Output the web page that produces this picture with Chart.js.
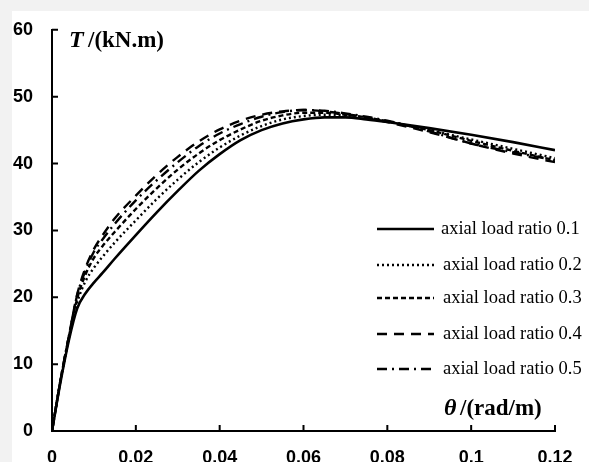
<!DOCTYPE html>
<html>
<head>
<meta charset="utf-8">
<script src="https://cdn.jsdelivr.net/npm/chart.js@4/dist/chart.umd.min.js"></script>
<style>
    html, body { margin: 0; padding: 0; background: #f2f2f2; }
    #box { width: 589px; height: 462px; }
</style>
</head>
<body>
<div id="box"><canvas id="myChart"></canvas></div>
<script>

// rotation angle (rad/m)
const theta = [0, 0.002, 0.004, 0.006, 0.008, 0.01, 0.012, 0.015, 0.02, 0.025, 0.03, 0.035,
    0.04, 0.045, 0.05, 0.055, 0.06, 0.065, 0.07, 0.075, 0.08, 0.09, 0.1, 0.11, 0.12]

// torque (kN.m) for each axial load ratio
const ratio01 = [0, 7.2, 13.5, 18.3, 20.6, 22.2, 23.6, 25.8, 29.3, 32.7, 35.9, 38.9,
    41.4, 43.5, 45.0, 46.0, 46.6, 46.9, 46.9, 46.6, 46.2, 45.3, 44.3, 43.2, 42.0]
const ratio02 = [0, 7.4, 13.8, 19.2, 22.4, 24.4, 26.0, 28.2, 31.5, 34.7, 37.6, 40.2,
    42.4, 44.2, 45.6, 46.6, 47.1, 47.3, 47.2, 46.8, 46.3, 45.0, 43.6, 42.2, 40.8]
const ratio03 = [0, 7.5, 14.0, 19.8, 23.4, 25.9, 27.6, 29.8, 33.2, 36.3, 39.1, 41.5,
    43.5, 45.1, 46.4, 47.2, 47.6, 47.6, 47.3, 46.9, 46.3, 45.0, 43.4, 41.9, 40.5]
const ratio04 = [0, 7.5, 14.1, 20.4, 24.4, 27.2, 29.2, 31.8, 35.2, 38.3, 41.0, 43.3,
    45.1, 46.4, 47.3, 47.8, 48.0, 47.8, 47.4, 46.9, 46.2, 44.7, 43.0, 41.5, 40.2]
const ratio05 = [0, 7.5, 14.1, 20.3, 24.0, 26.8, 28.6, 31.0, 34.5, 37.5, 40.2, 42.6,
    44.5, 45.9, 47.0, 47.7, 48.0, 47.9, 47.5, 47.0, 46.4, 44.8, 43.0, 41.7, 40.5]

const nomes = ['axial load ratio 0.1', 'axial load ratio 0.2', 'axial load ratio 0.3',
    'axial load ratio 0.4', 'axial load ratio 0.5']

const xTicks = [0, 0.02, 0.04, 0.06, 0.08, 0.1, 0.12]
const yTicks = [0, 10, 20, 30, 40, 50, 60]

function pontos(serie) {
    return theta.map(function (t, i) { return { x: t, y: serie[i] } })
}

const tracos = [[], [2, 3], [5, 3], [10, 7], [10, 5, 2, 5]]
const larguras = [2.6, 2.4, 2.4, 2.4, 2.4]
const series = [ratio01, ratio02, ratio03, ratio04, ratio05]

const datasets = series.map(function (s, i) {
    return {
        label: nomes[i],
        data: pontos(s),
        borderColor: '#000',
        borderWidth: larguras[i],
        borderDash: tracos[i],
        pointRadius: 0,
        cubicInterpolationMode: 'monotone',
        fill: false
    }
})

// background, inward ticks, axis labels and legend
const extras = {
    id: 'extras',
    beforeDraw(chart) {
        const ctx = chart.ctx
        ctx.save()
        ctx.fillStyle = '#f2f2f2'
        ctx.fillRect(0, 0, chart.width, chart.height)
        ctx.fillStyle = '#fff'
        ctx.fillRect(12, 11, chart.width - 12, chart.height - 11)
        ctx.restore()
    },
    afterDraw(chart) {
        const ctx = chart.ctx
        const xs = chart.scales.x
        const ys = chart.scales.y
        const area = chart.chartArea
        ctx.save()
        ctx.strokeStyle = '#000'
        ctx.lineWidth = 2
        ctx.beginPath()
        xTicks.forEach(function (v) {
            if (v === 0) return
            const px = xs.getPixelForValue(v)
            ctx.moveTo(px, area.bottom)
            ctx.lineTo(px, area.bottom - 6)
        })
        yTicks.forEach(function (v) {
            if (v === 0) return
            const py = ys.getPixelForValue(v)
            ctx.moveTo(area.left, py)
            ctx.lineTo(area.left + 6, py)
        })
        ctx.stroke()

        // axis names
        ctx.fillStyle = '#000'
        ctx.textBaseline = 'middle'
        ctx.font = 'italic bold 24px "Liberation Serif"'
        ctx.fillText('T', area.left + 17, 41)
        ctx.font = 'bold 23px "Liberation Serif"'
        ctx.fillText('/(kN.m)', area.left + 36, 41)
        ctx.font = 'italic bold 24px "Liberation Serif"'
        ctx.fillText('θ', 444, 409)
        ctx.font = 'bold 23px "Liberation Serif"'
        ctx.fillText('/(rad/m)', 460, 409)

        // legend
        const linhas = [229, 265, 298, 334, 369]
        ctx.font = '18.5px "Liberation Serif"'
        datasets.forEach(function (d, i) {
            ctx.setLineDash(d.borderDash)
            ctx.lineWidth = 2.6
            ctx.beginPath()
            ctx.moveTo(377, linhas[i])
            ctx.lineTo(434, linhas[i])
            ctx.stroke()
            ctx.setLineDash([])
            ctx.fillText(d.label, i === 0 ? 441 : 443, linhas[i])
        })
        ctx.restore()
    }
}

const config = {
    type: 'line',
    data: { datasets: datasets },
    options: {
        responsive: true,
        maintainAspectRatio: false,
        animation: false,
        layout: { padding: { left: 12, top: 20, right: 34, bottom: 0 } },
        plugins: {
            legend: { display: false },
            tooltip: { enabled: false }
        },
        scales: {
            x: {
                type: 'linear',
                min: 0,
                max: 0.12,
                afterFit: function (s) { s.height = 31 },
                afterBuildTicks: function (s) { s.ticks = xTicks.map(function (v) { return { value: v } }) },
                grid: { drawOnChartArea: false, drawTicks: false },
                border: { color: '#000', width: 2 },
                ticks: {
                    padding: 16,
                    color: '#000',
                    font: { family: 'Liberation Sans', size: 18, weight: 'bold' },
                    callback: function (v) { return String(v) }
                }
            },
            y: {
                min: 0,
                max: 60,
                afterFit: function (s) { s.width = 40 },
                afterBuildTicks: function (s) { s.ticks = yTicks.map(function (v) { return { value: v } }) },
                grid: { drawOnChartArea: false, drawTicks: false },
                border: { color: '#000', width: 2 },
                ticks: {
                    padding: 19,
                    color: '#000',
                    font: { family: 'Liberation Sans', size: 18, weight: 'bold' }
                }
            }
        }
    },
    plugins: [extras]
}

const myChart = new Chart(document.getElementById('myChart'), config)
</script>
</body>
</html>
